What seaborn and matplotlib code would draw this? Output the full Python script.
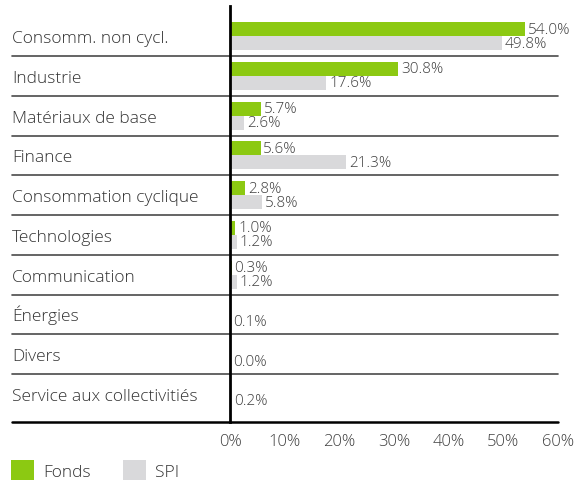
import matplotlib
matplotlib.use("Agg")
import matplotlib.pyplot as plt
import matplotlib.transforms as mtransforms
import seaborn as sns
import pandas as pd
import numpy as np

categories = ["Consomm. non cycl.", "Industrie", "Matériaux de base", "Finance",
              "Consommation cyclique", "Technologies", "Communication", "Énergies",
              "Divers", "Service aux collectivitiés"]
fonds = [54.0, 30.8, 5.7, 5.6, 2.8, 1.0, 0.3, 0.0, 0.0, 0.0]
spi = [49.8, 17.6, 2.6, 21.3, 5.8, 1.2, 1.2, 0.1, 0.0, 0.2]
fonds_shown = [True, True, True, True, True, True, True, False, False, False]
series_names = ["Fonds", "SPI"]
xticks = [0, 10, 20, 30, 40, 50, 60]

GREEN = "#8CC912"
GREY = "#D9D9DB"
TXT = "#404040"

sns.set_theme(style="white")
plt.rcParams["font.family"] = ["Open Sans", "DejaVu Sans"]
plt.rcParams["font.weight"] = "light"

df = pd.DataFrame({
    "cat": categories * 2,
    "val": fonds + spi,
    "series": [series_names[0]] * len(categories) + [series_names[1]] * len(categories),
})

W, H = 577, 481
fig = plt.figure(figsize=(W / 100, H / 100), dpi=100)
ax = fig.add_axes([230 / W, (H - 422.5) / H, (558 - 230) / W, (422.5 - 7) / H])

sns.barplot(data=df, y="cat", x="val", hue="series", orient="h",
            palette=[GREEN, GREY], width=0.7, order=categories,
            hue_order=series_names, ax=ax, legend=True, linewidth=0, saturation=1)

YBOT, YTOP = 9.695, -0.758
ax.set_xlim(0, 60)
ax.set_ylim(YBOT, YTOP)
ax.set_xticks(xticks)
ax.set_xticklabels([f"{t}%" for t in xticks], fontsize=12, color=TXT)
ax.tick_params(axis="x", length=0, pad=8)
ax.set_yticks([])
ax.set_xlabel("")
ax.set_ylabel("")
for s in ["top", "right", "bottom"]:
    ax.spines[s].set_visible(False)
ax.spines["left"].set_color("black")
ax.spines["left"].set_linewidth(2)

# value labels
fl = [f"{v:.1f}%" if show else "" for v, show in zip(fonds, fonds_shown)]
sl = [f"{v:.1f}%" for v in spi]
ax.bar_label(ax.containers[0], labels=fl, padding=2, fontsize=11, color=TXT)
ax.bar_label(ax.containers[1], labels=sl, padding=2, fontsize=11, color=TXT)

# category labels and separators
trans = mtransforms.blended_transform_factory(fig.transFigure, ax.transData)
for i, c in enumerate(categories):
    ax.text(12 / W, i + 0.15, c, transform=trans, ha="left", va="baseline",
            fontsize=12.5, color="#333333")
for i in range(len(categories) - 1):
    ax.plot([12 / W, 558 / W], [i + 0.5, i + 0.5], transform=trans,
            color="#4a4a4a", lw=1.2, clip_on=False, zorder=0)
ax.plot([12 / W, 558 / W], [YBOT, YBOT], transform=trans,
        color="black", lw=1.8, clip_on=False, zorder=3)

handles, labels = ax.get_legend_handles_labels()
ax.legend_.remove()
fs = 12.5
px = fs * 100 / 72
fig.legend(handles, labels, loc="lower left", bbox_to_anchor=(11 / W, 0),
           ncol=2, frameon=False, fontsize=fs, handlelength=23 / px,
           handleheight=24 / px, handletextpad=9 / px, columnspacing=32 / px,
           borderpad=0, borderaxespad=0, labelcolor="#333333")

fig.savefig("out.png", dpi=100)
